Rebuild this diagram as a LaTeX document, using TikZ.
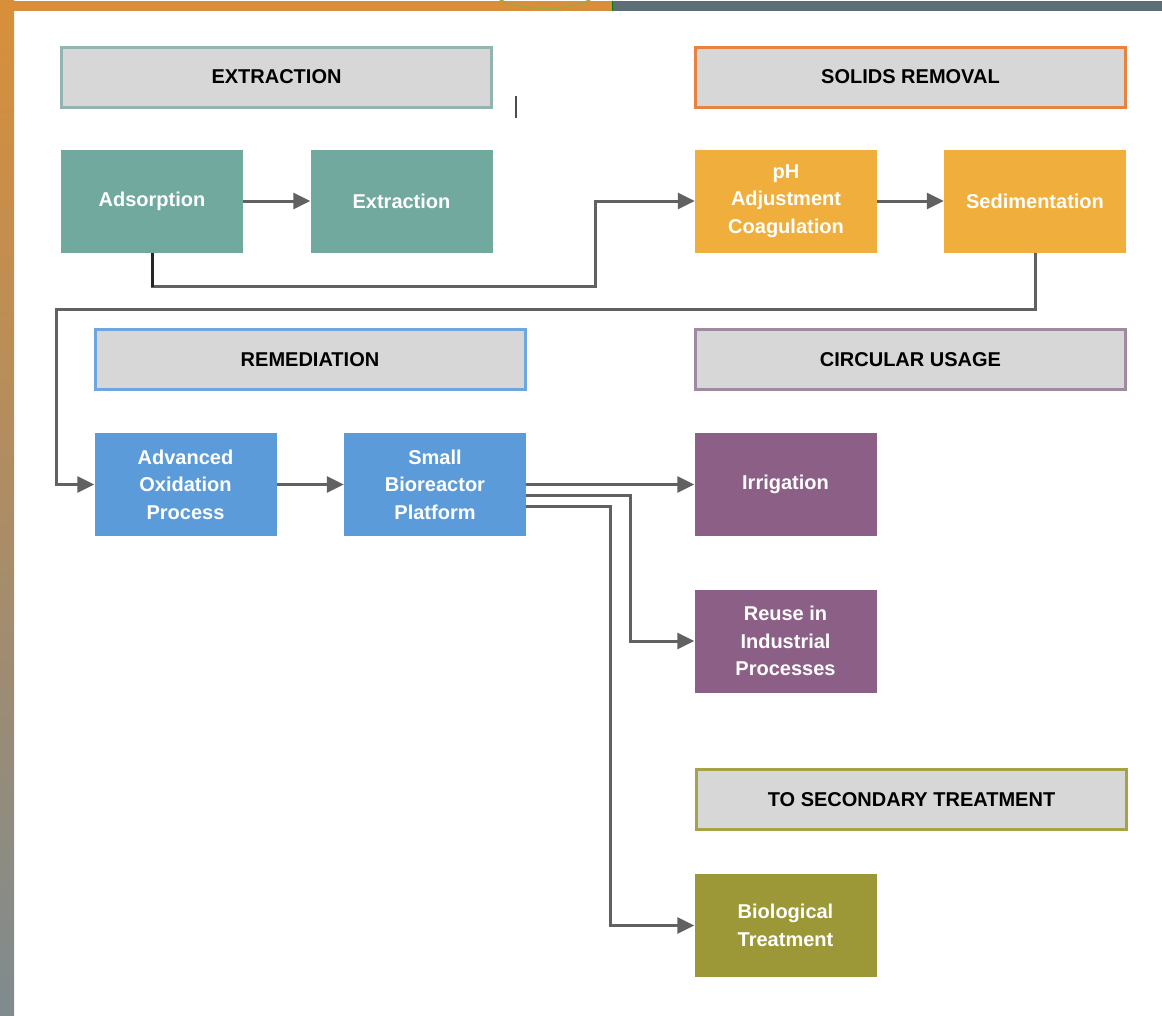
\documentclass[tikz,border=0pt]{standalone}
\usepackage{fontspec}
\setmainfont{Liberation Sans}
\usetikzlibrary{arrows.meta,positioning}

\definecolor{headgray}{HTML}{D7D7D7}
\definecolor{flowgray}{HTML}{616161}
\definecolor{tealbox}{HTML}{72A99F}
\definecolor{orangebox}{HTML}{F0AE3C}
\definecolor{bluebox}{HTML}{5B9BD9}
\definecolor{purplebox}{HTML}{8B5F86}
\definecolor{olivebox}{HTML}{9C9837}
\definecolor{tealline}{HTML}{93B4B0}
\definecolor{orangeline}{HTML}{E9823E}
\definecolor{blueline}{HTML}{6EA7E0}
\definecolor{purpleline}{HTML}{A08AA0}
\definecolor{oliveline}{HTML}{A5A346}
\definecolor{frameorange}{HTML}{D98F3A}
\definecolor{frameslate}{HTML}{5E6E76}
\definecolor{framegray}{HTML}{7F8B8F}

\begin{document}
\begin{tikzpicture}[x=1pt, y=-1pt,
    headbox/.style={draw=#1, line width=3pt, fill=headgray, minimum width=430pt,
      minimum height=60pt, inner sep=0pt, font=\fontsize{20}{24}\selectfont\bfseries},
    procbox/.style={fill=#1, text=white, minimum width=182pt, minimum height=103pt,
      inner sep=0pt, align=center, font=\fontsize{20}{27.5}\selectfont\bfseries},
    flow/.style={draw=flowgray, line width=3pt, -{Triangle[length=17pt,width=16pt]}}]

    % frame
    \fill[white] (0,0) rectangle (1162,1015);
    \shade[top color=frameorange, bottom color=framegray] (0,0) rectangle (14,1015);
    \fill[frameorange] (0,0) rectangle (612,10);
    \fill[frameslate] (612,0) rectangle (1162,10);
    \begin{scope}
      \clip (0,0) rectangle (612,10);
      \draw[oliveline, line width=1.5pt] (545,-20) ellipse [x radius=62, y radius=28];
    \end{scope}
    \draw[green!50!black, line width=1pt] (612,0) -- (612,10);
    \draw[black!70, line width=1.5pt] (516,95) -- (516,117);

    % headers
    \node[headbox=tealline]   (hExtr)   at (276.5,76.5) {EXTRACTION};
    \node[headbox=orangeline] (hSolids) at (910.5,76.5) {SOLIDS REMOVAL};
    \node[headbox=blueline]   (hRemed)  at (310,359)    {REMEDIATION};
    \node[headbox=purpleline] (hCirc)   at (910.5,359)  {CIRCULAR USAGE};
    \node[headbox=oliveline]  (hSecond) at (911.5,799)  {TO SECONDARY TREATMENT};

    % process boxes
    \node[procbox=tealbox]   (adsorp) at (152,200.5)  {Adsorption};
    \node[procbox=tealbox]   (extr)   at (401.5,200.5) {Extraction};
    \node[procbox=orangebox] (phadj)  at (786,200.5)  {pH\\Adjustment\\Coagulation};
    \node[procbox=orangebox] (sedim)  at (1035,200.5) {Sedimentation};
    \node[procbox=bluebox]   (aop)    at (185.5,484)  {Advanced\\Oxidation\\Process};
    \node[procbox=bluebox]   (sbp)    at (435,484)    {Small\\Bioreactor\\Platform};
    \node[procbox=purplebox] (irrig)  at (785.5,484)  {Irrigation};
    \node[procbox=purplebox] (reuse)  at (785.5,640.5) {Reuse in\\Industrial\\Processes};
    \node[procbox=olivebox]  (bio)    at (785.5,925)  {Biological\\Treatment};

    % routing points
    \coordinate (bendA) at (595,286);
    \coordinate (bendB) at (56,309);
    \coordinate (bendC) at (630,495);
    \coordinate (bendD) at (610,506);

    % connectors
    \draw[flow] (adsorp) -- (extr);
    \draw[flow] (phadj) -- (sedim);
    \draw[flow] (adsorp.south) |- (bendA) |- (phadj.west);
    \draw[black!85, line width=3pt] (adsorp.south) -- (adsorp.south |- bendA);
    \draw[flow] (sedim.south) |- (bendB) |- (aop.west);
    \draw[flow] (aop) -- (sbp);
    \draw[flow] (sbp) -- (irrig);
    \draw[flow] ([yshift=-11pt]sbp.east) -- (bendC) |- (reuse.west);
    \draw[flow] ([yshift=-22pt]sbp.east) -- (bendD) |- (bio.west);
\end{tikzpicture}
\end{document}
